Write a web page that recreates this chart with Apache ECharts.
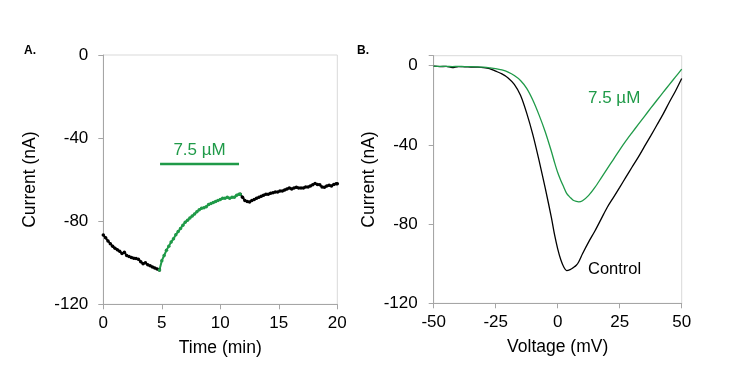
<!DOCTYPE html>
<html><head><meta charset="utf-8">
<script src="https://cdn.jsdelivr.net/npm/echarts@6/dist/echarts.min.js"></script>
<style>html,body{margin:0;padding:0;background:#fff}#c{width:750px;height:365px}</style>
</head><body><div id="c"></div>
<script>
// Panel A: time course (min, nA)
const preTime = [0,0.2,0.4,0.6,0.8,1.0,1.2,1.4,1.6,1.8,2.0,2.2,2.4,2.6,2.8,3.0,3.2,3.4,3.6,3.8,4.0,4.2,4.4,4.6,4.8];
const preCurrent = [-86.6,-88,-89.5,-90.8,-92,-93,-93.8,-94.5,-95.5,-95,-96.5,-97,-97.5,-97.8,-98,-98.3,-99.5,-100.5,-100,-101,-101.5,-102,-102.5,-103,-103.5];
const drugTime = [4.8,5.0,5.2,5.4,5.6,5.8,6.0,6.2,6.4,6.6,6.8,7.0,7.2,7.4,7.6,7.8,8.0,8.2,8.4,8.6,8.8,9.0,9.2,9.4,9.6,9.8,10.0,10.2,10.4,10.6,10.8,11.0,11.2,11.4,11.6,11.7];
const drugCurrent = [-103.5,-99,-96.5,-94,-92,-90,-88.5,-86.5,-85,-83.5,-82,-80.5,-79.5,-78.5,-77.5,-76.5,-75.5,-74.5,-73.8,-73.5,-73,-72,-71.5,-71,-70.5,-70,-69.5,-69,-69,-68.5,-69,-68.5,-68.5,-67.5,-67,-67];
const washTime = [11.7,11.9,12.1,12.3,12.5,12.7,12.9,13.1,13.3,13.5,13.7,13.9,14.1,14.3,14.5,14.7,14.9,15.1,15.3,15.5,15.7,15.9,16.1,16.3,16.5,16.7,16.9,17.1,17.3,17.5,17.7,17.9,18.1,18.3,18.5,18.7,18.9,19.1,19.3,19.5,19.7,19.9,20];
const washCurrent = [-67,-68.5,-70,-70.5,-70.8,-70,-69.5,-69,-68.5,-68,-67.5,-67,-67,-66.5,-66.3,-66,-66,-65.5,-65.5,-65,-64.5,-64,-64.5,-64,-63.7,-64,-64,-64,-63.5,-63.5,-63,-62.5,-61.8,-62.3,-62.5,-63.5,-63.7,-63,-62.7,-63,-62.3,-62,-62];
const drugBarTime = [4.85, 11.6];
const drugBarLevel = -52.5;
const drugLabel = '7.5 µM';
const xTicksA = [0,5,10,15,20];
const yTicksA = [-120,-80,-40,0];

// Panel B: I-V curves (mV, nA)
const voltage = [-50,-47.5,-45,-42.5,-40,-37.5,-35,-32.5,-30,-27.5,-25,-22.5,-20,-17.5,-15,-12.5,-10,-7.5,-5,-2.5,-1.25,0,1.25,2.5,3.6,5,6.25,7.5,8.5,10,12.5,15,17.5,20,22.5,25,27.5,30,32.5,35,37.5,40,42.5,45,47.5,50];
const controlCurrent = [-0.3,-0.5,-0.4,-1.0,-0.5,-0.6,-0.7,-0.8,-1.0,-1.5,-2.8,-4.2,-6.2,-9.5,-15,-24,-35,-48,-62,-77,-85.5,-92.5,-98,-101.8,-103.5,-103,-102,-100.8,-99,-95,-89,-83.5,-77.5,-71.5,-66.5,-61.5,-56.3,-51.2,-46.2,-40.8,-35.5,-30,-24.5,-18.5,-12.8,-6.5];
const drugIV = [-0.3,-0.4,-0.4,-0.5,-0.4,-0.5,-0.5,-0.6,-0.8,-1.1,-1.5,-2.2,-3.3,-5,-7.5,-11.5,-17.5,-25,-33.5,-43.5,-49,-54,-58,-61.5,-64.5,-66.5,-68,-68.6,-68.8,-68.2,-65.5,-61.5,-56.8,-52,-47.3,-42.5,-38,-33.8,-29.7,-25.6,-21.5,-17.5,-13.5,-9.6,-5.7,-1.8];
const controlLabel = 'Control';
const xTicksB = [-50,-25,0,25,50];

const GREEN = '#1f9a48';
const font = 'Liberation Sans, Arial, sans-serif';
const pair = (xs, ys) => xs.map((x, i) => [x, ys[i]]);

const axisCommon = {
  axisLine: {show: true, onZero: false, lineStyle: {color: '#a6a6a6', width: 1}},
  axisTick: {show: true, inside: false, length: 5, lineStyle: {color: '#a6a6a6'}},
  splitLine: {show: false},
  axisLabel: {color: '#000', fontSize: 17, fontFamily: font},
  nameTextStyle: {color: '#000', fontSize: 17.5, fontFamily: font}
};

const chart = echarts.init(document.getElementById('c'), null, {renderer: 'canvas'});
chart.setOption({
  animation: false,
  backgroundColor: '#fff',
  grid: [
    {left: 103.3, top: 55, width: 234, height: 249.3, show: true, borderColor: '#d9d9d9', borderWidth: 1, backgroundColor: 'transparent'},
    {left: 433.7, top: 55.7, width: 248, height: 247.6, show: true, borderColor: '#d9d9d9', borderWidth: 1, backgroundColor: 'transparent'}
  ],
  xAxis: [
    Object.assign({}, axisCommon, {gridIndex: 0, type: 'value', min: xTicksA[0], max: xTicksA[xTicksA.length-1], interval: 5,
      name: 'Time (min)', nameLocation: 'middle', nameGap: 35,
      axisLabel: Object.assign({}, axisCommon.axisLabel, {margin: 11})}),
    Object.assign({}, axisCommon, {gridIndex: 1, type: 'value', min: xTicksB[0], max: xTicksB[xTicksB.length-1], interval: 25,
      name: 'Voltage (mV)', nameLocation: 'middle', nameGap: 35,
      axisLabel: Object.assign({}, axisCommon.axisLabel, {margin: 11})})
  ],
  yAxis: [
    Object.assign({}, axisCommon, {gridIndex: 0, type: 'value', min: yTicksA[0], max: yTicksA[yTicksA.length-1], interval: 40,
      name: 'Current (nA)', nameLocation: 'middle', nameGap: 64,
      axisLabel: Object.assign({}, axisCommon.axisLabel, {margin: 15})}),
    Object.assign({}, axisCommon, {gridIndex: 1, type: 'value', min: -120, max: 5, interval: 40,
      name: 'Current (nA)', nameLocation: 'middle', nameGap: 56,
      axisLabel: Object.assign({}, axisCommon.axisLabel, {margin: 16,
        formatter: v => (v % 40 === 0 ? String(v) : '')})})
  ],
  series: [
    {type: 'line', xAxisIndex: 0, yAxisIndex: 0, data: pair(preTime, preCurrent), symbol: 'circle', symbolSize: 3.5, showSymbol: true,
      itemStyle: {color: '#000'}, lineStyle: {color: '#000', width: 2}},
    {type: 'line', xAxisIndex: 0, yAxisIndex: 0, data: pair(washTime, washCurrent), symbol: 'circle', symbolSize: 3.5, showSymbol: true,
      itemStyle: {color: '#000'}, lineStyle: {color: '#000', width: 2}},
    {type: 'line', xAxisIndex: 0, yAxisIndex: 0, data: pair(drugTime, drugCurrent), symbol: 'circle', symbolSize: 3.5, showSymbol: true,
      itemStyle: {color: GREEN}, lineStyle: {color: GREEN, width: 2}},
    {type: 'line', xAxisIndex: 0, yAxisIndex: 0, data: drugBarTime.map(t => [t, drugBarLevel]), symbol: 'none',
      lineStyle: {color: GREEN, width: 2.5},
      markPoint: {symbol: 'rect', symbolSize: 0,
        data: [{coord: [(drugBarTime[0] + drugBarTime[1]) / 2, drugBarLevel], value: drugLabel,
          label: {show: true, formatter: drugLabel, color: GREEN, fontSize: 17, fontFamily: font, offset: [0, -14]}}]}},
    {type: 'line', xAxisIndex: 1, yAxisIndex: 1, data: pair(voltage, controlCurrent), symbol: 'none', smooth: 0.3,
      lineStyle: {color: '#000', width: 1.3}},
    {type: 'line', xAxisIndex: 1, yAxisIndex: 1, data: pair(voltage, drugIV), symbol: 'none', smooth: 0.3,
      lineStyle: {color: GREEN, width: 1.3}}
  ],
  graphic: [
    {type: 'text', left: 24, top: 45, style: {text: 'A.', fontSize: 12, fontWeight: 'bold', fontFamily: font, fill: '#000'}},
    {type: 'text', left: 357, top: 45, style: {text: 'B.', fontSize: 12, fontWeight: 'bold', fontFamily: font, fill: '#000'}},
    {type: 'text', left: 588, top: 90, style: {text: drugLabel, fontSize: 17, fontFamily: font, fill: GREEN}},
    {type: 'text', left: 588, top: 261, style: {text: controlLabel, fontSize: 16.5, fontFamily: font, fill: '#000'}}
  ]
});
</script></body></html>
